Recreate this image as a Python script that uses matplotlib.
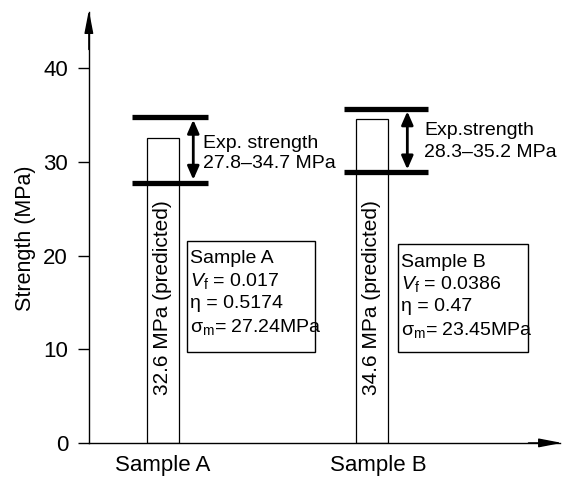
import matplotlib
matplotlib.use("Agg")
import matplotlib.pyplot as plt
from matplotlib.patches import Rectangle

plt.rcParams['font.family'] = ['Liberation Sans', 'DejaVu Sans']
plt.rcParams['mathtext.fontset'] = 'custom'
plt.rcParams['mathtext.rm'] = 'Liberation Sans'
plt.rcParams['mathtext.it'] = 'Liberation Sans:italic'

categories = ["Sample A", "Sample B"]
predicted = [32.6, 34.6]
exp_low = [27.8, 28.9]
exp_high = [34.8, 35.7]
exp_line1 = ["Exp. strength", "Exp.strength"]
exp_line2 = ["27.8\u201334.7 MPa", "28.3\u201335.2 MPa"]
vf_labels = ["0.017", "0.0386"]
eta_labels = ["0.5174", "0.47"]
sigma_labels = ["27.24MPa", "23.45MPa"]
yticks = [0, 10, 20, 30, 40]

xpos = [1.0, 3.0]
fs = 14

fig = plt.figure(figsize=(5.66, 4.83), dpi=100)
ax = fig.add_axes([0.157, 0.083, 0.832, 0.892])
ax.set_xlim(0.29, 4.8)
ax.set_ylim(0, 46)
for s in ['top', 'right']:
    ax.spines[s].set_visible(False)
for s in ['left', 'bottom']:
    ax.spines[s].set_linewidth(1.0)

# axis arrows
head = '-|>,head_length=1.4,head_width=0.27'
ax.annotate('', xy=(4.82, 0), xytext=(4.5, 0),
            arrowprops=dict(arrowstyle=head, color='black', lw=1.0, shrinkA=0, shrinkB=0),
            annotation_clip=False)
ax.annotate('', xy=(0.29, 46.2), xytext=(0.29, 42),
            arrowprops=dict(arrowstyle=head, color='black', lw=1.0, shrinkA=0, shrinkB=0),
            annotation_clip=False)

# bars
ax.bar(xpos, predicted, width=0.31, facecolor='white', edgecolor='black', linewidth=0.9, zorder=2)

line_ext = [(-0.30, 0.43), (-0.27, 0.54)]
arrow_off = [0.29, 0.34]
text_off = [0.385, 0.50]
text_y1 = [32.0, 33.4]
text_y2 = [29.8, 31.0]
box_off = [0.23, 0.25]
box_w = [1.23, 1.25]
box_top = [21.6, 21.2]
box_bot = [9.7, 9.7]
line_y = [[19.7, 17.3, 14.9, 12.4], [19.3, 17.0, 14.6, 12.1]]

for i in range(2):
    x = xpos[i]
    l, r = line_ext[i]
    for yv in (exp_low[i], exp_high[i]):
        ax.plot([x + l, x + r], [yv, yv], color='black', linewidth=3.8, solid_capstyle='butt', zorder=3)
    ax.annotate('', xy=(x + arrow_off[i], exp_high[i] - 0.3), xytext=(x + arrow_off[i], exp_low[i] + 0.3),
                arrowprops=dict(arrowstyle='<|-|>,head_length=0.8,head_width=0.35', color='black', lw=2.0,
                                shrinkA=0, shrinkB=0), zorder=4)
    ax.text(x + text_off[i], text_y1[i], exp_line1[i], fontsize=fs, va='center', ha='left')
    ax.text(x + text_off[i], text_y2[i], exp_line2[i], fontsize=fs, va='center', ha='left')
    ax.text(x, 15.5, f"{predicted[i]} MPa (predicted)", rotation=90, fontsize=15,
            ha='center', va='center', zorder=5)
    ax.add_patch(Rectangle((x + box_off[i], box_bot[i]), box_w[i], box_top[i] - box_bot[i],
                           facecolor='white', edgecolor='black', linewidth=1.0, zorder=4))
    tx = x + box_off[i] + 0.03
    lines = [categories[i],
             f"$V_{{\\mathrm{{f}}}}$ = {vf_labels[i]}",
             f"\u03b7 = {eta_labels[i]}",
             f"\u03c3$_{{\\mathrm{{m}}}}$= {sigma_labels[i]}"]
    for ln, yy in zip(lines, line_y[i]):
        ax.text(tx, yy, ln, fontsize=fs, ha='left', va='center', zorder=5)

ax.set_yticks(yticks)
ax.set_yticklabels([str(t) for t in yticks], fontsize=16)
ax.tick_params(axis='y', length=8, width=1.0, pad=7)
ax.set_xticks([1.0, 3.06])
ax.set_xticklabels(categories, fontsize=16)
ax.tick_params(axis='x', length=0, pad=9)
ax.set_ylabel("Strength (MPa)", fontsize=15.5)
ax.yaxis.set_label_coords(-0.112, 0.476)

fig.savefig("out.png", dpi=100)
